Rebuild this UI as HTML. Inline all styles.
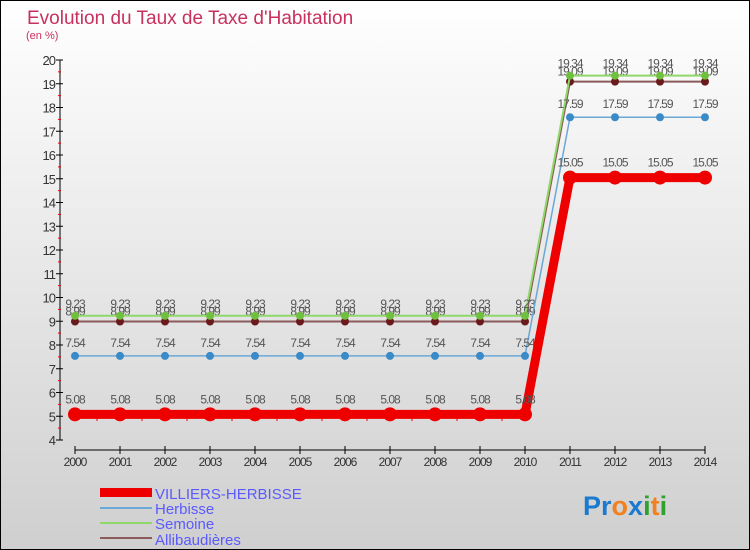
<!DOCTYPE html>
<html><head><meta charset="utf-8"><style>
body{margin:0;width:750px;height:550px;overflow:hidden}
svg{display:block;font-family:"Liberation Sans",sans-serif}
</style></head><body>
<svg id="c" width="750" height="550">
<defs><linearGradient id="bg" x1="0" y1="0" x2="0" y2="1"><stop offset="0" stop-color="#ffffff"/><stop offset="1" stop-color="#cfcfcf"/></linearGradient></defs>
<rect x="0.5" y="0.5" width="749" height="549" fill="url(#bg)" stroke="#000"/>
<text x="27" y="24" font-size="19" fill="#c8305e">Evolution du Taux de Taxe d'Habitation</text>
<text x="26" y="39" font-size="11" fill="#c8305e">(en %)</text>
<g id="axes"></g><g id="series"></g>
<g>
<rect x="100" y="488" width="52" height="9" fill="#e00"/>
<text x="155" y="499" font-size="15" fill="#5a5aff">VILLIERS-HERBISSE</text>
<line x1="100" y1="508" x2="152" y2="508" stroke="#6aa8d8" stroke-width="2"/>
<text x="155" y="514" font-size="15" fill="#5a5aff">Herbisse</text>
<line x1="100" y1="523" x2="152" y2="523" stroke="#8fd86a" stroke-width="2"/>
<text x="155" y="529" font-size="15" fill="#5a5aff">Semoine</text>
<line x1="100" y1="538" x2="152" y2="538" stroke="#8b5a5a" stroke-width="2"/>
<text x="155" y="545" font-size="15" fill="#5a5aff">Allibaudières</text>
</g>
<text x="583" y="515" font-size="27" font-weight="bold"><tspan fill="#1a7ad0">Pr</tspan><tspan fill="#f08020">o</tspan><tspan fill="#1a7ad0">x</tspan><tspan fill="#30a030">i</tspan><tspan fill="#f08020">t</tspan><tspan fill="#30a030">i</tspan></text>
</svg>
<script>
const years=[2000,2001,2002,2003,2004,2005,2006,2007,2008,2009,2010,2011,2012,2013,2014];
const yTicks=[4,5,6,7,8,9,10,11,12,13,14,15,16,17,18,19,20];
const villiers=[5.08,5.08,5.08,5.08,5.08,5.08,5.08,5.08,5.08,5.08,5.08,15.05,15.05,15.05,15.05];
const herbisse=[7.54,7.54,7.54,7.54,7.54,7.54,7.54,7.54,7.54,7.54,7.54,17.59,17.59,17.59,17.59];
const semoine=[9.23,9.23,9.23,9.23,9.23,9.23,9.23,9.23,9.23,9.23,9.23,19.34,19.34,19.34,19.34];
const allib=[8.99,8.99,8.99,8.99,8.99,8.99,8.99,8.99,8.99,8.99,8.99,19.09,19.09,19.09,19.09];
const NS="http://www.w3.org/2000/svg";
const X=i=>75+i*45, Y=v=>440-(v-4)*23.75;
function mk(p,t,a){const e=document.createElementNS(NS,t);for(const k in a)e.setAttribute(k,a[k]);p.appendChild(e);return e;}
const ax=document.getElementById('axes');
let l=mk(ax,'line',{x1:60,y1:Y(20),x2:60,y2:Y(4),stroke:'#000'});


yTicks.forEach(v=>{
 mk(ax,'line',{x1:56,y1:Y(v),x2:63,y2:Y(v),stroke:'#000'});
 if(v<20){mk(ax,'line',{x1:58,y1:Y(v+0.5),x2:61,y2:Y(v+0.5),stroke:'#e00'});}
 const t=mk(ax,'text',{x:55,y:Y(v)+5,'font-size':13,'text-anchor':'end',fill:'#333','letter-spacing':'-1'});
 t.textContent=v;
 
 
});
l=mk(ax,'line',{x1:X(0),y1:450,x2:X(14),y2:450,stroke:'#000'});


years.forEach((y,i)=>{
 mk(ax,'line',{x1:X(i),y1:446,x2:X(i),y2:454,stroke:'#000'});
 if(i<10)mk(ax,'line',{x1:X(i)+22,y1:418,x2:X(i)+22,y2:421,stroke:'#e00'});
 const t=mk(ax,'text',{x:X(i),y:466,'font-size':12,'text-anchor':'middle',fill:'#333','letter-spacing':'-1'});
 t.textContent=y;
 
 
});
const sg=document.getElementById('series');
function series(name,vals,color,w,r,dot,lab){
 const pl=mk(sg,'polyline',{points:vals.map((v,i)=>X(i)+','+Y(v)).join(' '),fill:'none',stroke:color,'stroke-width':w,'stroke-linejoin':'round'});
 
 
 vals.forEach((v,i)=>{
  const c=mk(sg,'circle',{cx:X(i),cy:Y(v),r:r,fill:dot});
  
  
  const t=mk(sg,'text',{x:X(i),y:Y(v)-lab,'font-size':12,'text-anchor':'middle',fill:'#555','letter-spacing':'-1'});
  t.textContent=v.toFixed(2).replace(/0$/,'').replace(/\.$/,'');
  
  
 });
}
series('allibaudieres',allib,'#8b5a5a',2,4,'#6a1a1a',6);
series('semoine',semoine,'#8fd86a',2,4,'#70c040',8);
series('herbisse',herbisse,'#6aa8d8',1.5,4,'#3a8ac8',9);
series('villiers',villiers,'#e00',9,7,'#e00',11);
</script>
</body></html>
